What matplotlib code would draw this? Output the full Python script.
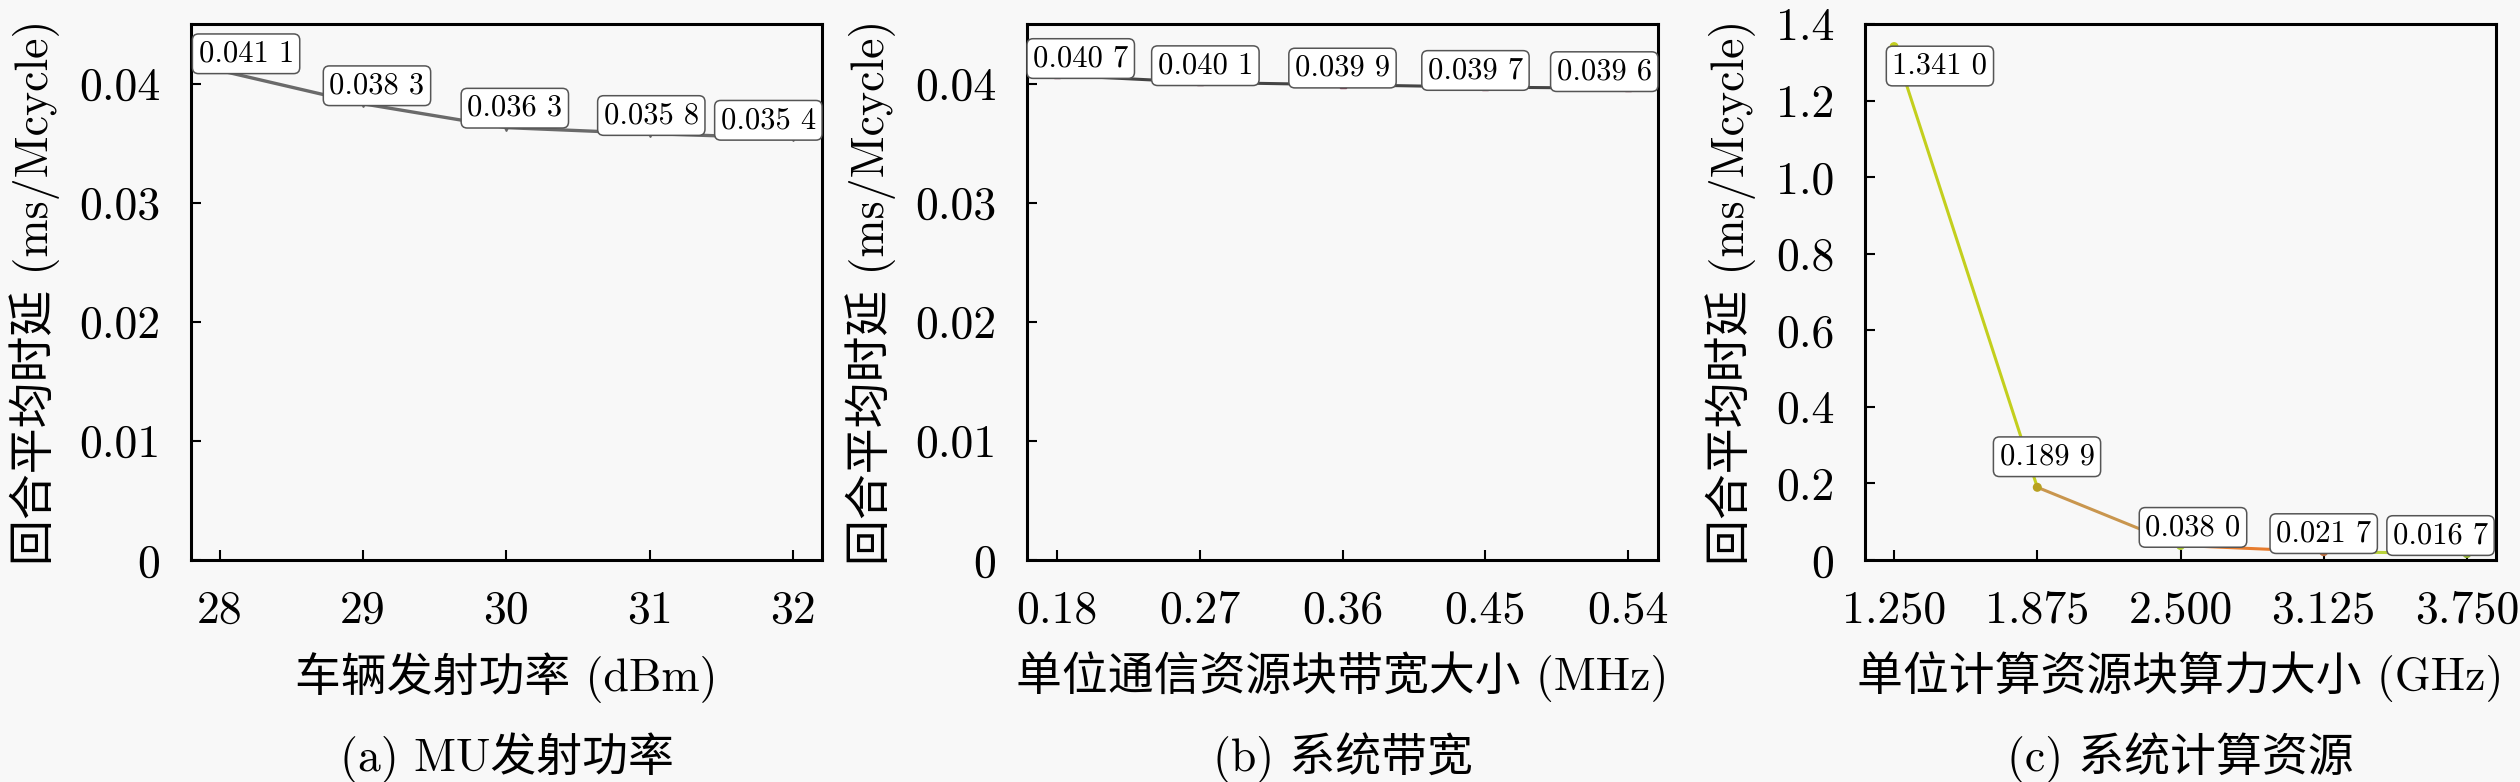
import numpy as np
import matplotlib
matplotlib.use("Agg")
import matplotlib.pyplot as plt

# data
power_x = [28, 29, 30, 31, 32]
power_y = [0.0411, 0.0383, 0.0363, 0.0358, 0.0354]

bw_x = [0.18, 0.27, 0.36, 0.45, 0.54]
bw_y = [0.0407, 0.0401, 0.0399, 0.0397, 0.0396]

cpu_x = [1.25, 1.875, 2.5, 3.125, 3.75]
cpu_y = [1.3410, 0.1899, 0.0380, 0.0217, 0.0167]

small_yticks = [0, 0.01, 0.02, 0.03, 0.04]
small_ylabels = ["0", "0.01", "0.02", "0.03", "0.04"]
cpu_yticks = [0, 0.2, 0.4, 0.6, 0.8, 1.0, 1.2, 1.4]
cpu_ylabels = ["0", "0.2", "0.4", "0.6", "0.8", "1.0", "1.2", "1.4"]
power_xlabels = ["28", "29", "30", "31", "32"]
bw_xlabels = ["0.18", "0.27", "0.36", "0.45", "0.54"]
cpu_xlabels = ["1.250", "1.875", "2.500", "3.125", "3.750"]

ylabel = "回合平均时延 (ms/Mcycle)"
xlabels = ["车辆发射功率 (dBm)", "单位通信资源块带宽大小 (MHz)", "单位计算资源块算力大小 (GHz)"]
captions = ["(a) MU发射功率", "(b) 系统带宽", "(c) 系统计算资源"]

plt.rcParams['font.family'] = ['cmr10', 'Noto Sans CJK SC']
plt.rcParams['axes.formatter.use_mathtext'] = True

BG = "#f8f8f8"
FS = 33


def fmt(v):
    # 0.0411 -> "0.041 1"
    s = "%.4f" % v
    return s[:-1] + " " + s[-1]


def style_axes(ax):
    ax.set_facecolor(BG)
    for sp in ax.spines.values():
        sp.set_linewidth(2.2)
    ax.tick_params(direction="in", length=7, width=1.5, pad=22,
                   labelsize=FS, top=False, right=False)


def annotate(ax, xs, ys, dx, dy):
    for x, y, ox, oy in zip(xs, ys, dx, dy):
        ax.annotate(fmt(y), xy=(x, y), xytext=(ox, oy),
                    textcoords="offset points", ha="center", va="center",
                    fontsize=22, zorder=6,
                    bbox=dict(boxstyle="round,pad=0.2", fc="white",
                              ec="#555555", lw=1.1))


fig = plt.figure(figsize=(25.2, 7.82), dpi=100, facecolor=BG)
lefts = [191, 1027, 1865]
axes = [fig.add_axes([l / 2520, 222 / 782, 631 / 2520, 536 / 782]) for l in lefts]

# (a)
ax = axes[0]
style_axes(ax)
ax.plot(power_x, power_y, color="#6a6a6a", lw=2.4, zorder=3)
ax.plot(power_x, power_y, ls="none", marker="v", ms=5, color="#666666", zorder=3)
ax.set_xlim(27.8, 32.2)
ax.set_ylim(0, 0.045)
ax.set_xticks(power_x)
ax.set_xticklabels(power_xlabels)
ax.set_yticks(small_yticks)
ax.set_yticklabels(small_ylabels)
annotate(ax, power_x, power_y, [19, 10, 6, 1, -18], [12, 13, 14, 13, 13])

# (b)
ax = axes[1]
style_axes(ax)
ax.plot(bw_x, bw_y, color="#444444", lw=2.2, zorder=3)
ax.plot(bw_x, bw_y, ls="none", marker="s", ms=4, color="#8e3a55", zorder=3)
ax.set_xlim(0.161, 0.559)
ax.set_ylim(0, 0.045)
ax.set_xticks(bw_x)
ax.set_xticklabels(bw_xlabels)
ax.set_yticks(small_yticks)
ax.set_yticklabels(small_ylabels)
annotate(ax, bw_x, bw_y, [17, 4, 0, -7, -17], [12, 12, 12, 12, 12])

# (c) multicoloured line
ax = axes[2]
style_axes(ax)
seg_colors = ["#c3cf1e", "#c9964e", "#e77c2e", "#b9d23a"]
for i in range(len(cpu_x) - 1):
    ax.plot(cpu_x[i:i + 2], cpu_y[i:i + 2], color=seg_colors[i], lw=2.2, zorder=3)
pt_colors = ["#c3cf1e", "#b8a020", "#a8c830", "#c07040", "#90b030"]
ax.scatter(cpu_x, cpu_y, s=30, c=pt_colors, zorder=4)
ax.set_xlim(1.123, 3.877)
ax.set_ylim(0, 1.4)
ax.set_xticks(cpu_x)
ax.set_xticklabels(cpu_xlabels)
ax.set_yticks(cpu_yticks)
ax.set_yticklabels(cpu_ylabels)
annotate(ax, cpu_x, cpu_y, [33, 7, 9, 0, -19], [-14, 22, 13, 13, 13])

for ax, xl, cap in zip(axes, xlabels, captions):
    ax.set_xlabel(xl, fontsize=FS, labelpad=14)
    ax.set_ylabel(ylabel, fontsize=FS, labelpad=14)
    pos = ax.get_position()
    fig.text((pos.x0 + pos.x1) / 2, 0.031, cap, ha="center", va="center", fontsize=FS)

fig.savefig("out.png", dpi=100, facecolor=BG)
